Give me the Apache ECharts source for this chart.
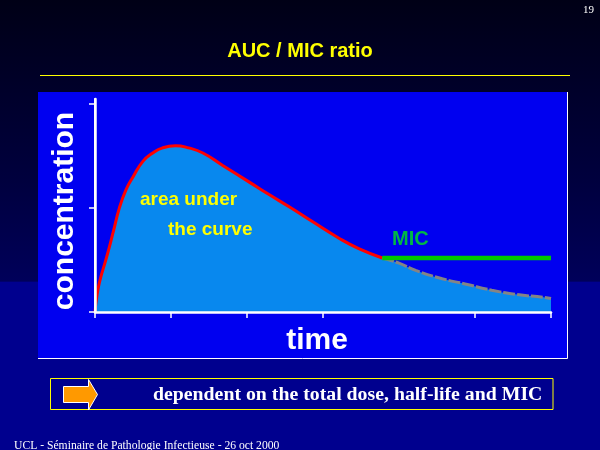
<!DOCTYPE html>
<html>
<head>
<meta charset="utf-8">
<script src="https://cdn.jsdelivr.net/npm/echarts@6/dist/echarts.min.js"></script>
<style>
html,body{margin:0;padding:0;background:#000030;}
#chart{width:600px;height:450px;}
</style>
</head>
<body>
<div id="chart"></div>
<script>
// ---- data ----
const curveTime = [0, 0.02, 0.06, 0.15, 0.24, 0.32, 0.41, 0.5, 0.63, 0.76, 0.89, 1.06, 1.23, 1.42, 1.68, 2.03, 2.29, 2.56, 2.86, 3.21, 3.47, 3.78];
const curveConc = [0, 0.13, 0.29, 0.52, 0.77, 1.0, 1.18, 1.3, 1.45, 1.53, 1.58, 1.6, 1.58, 1.53, 1.41, 1.25, 1.13, 1.01, 0.87, 0.71, 0.61, 0.52];
const tailTime = [3.78, 4.0, 4.22, 4.57, 4.87, 5.22, 5.53, 5.92, 6.0];
const tailConc = [0.52, 0.47, 0.40, 0.32, 0.27, 0.21, 0.17, 0.14, 0.13];
const micTime = [3.78, 6.0];
const micConc = [0.52, 0.52];
const xTickValues = [0, 1, 2, 3, 5, 6];
const yTickValues = [0, 1, 2];

const titleText = 'AUC / MIC ratio';
const yName = 'concentration';
const xName = 'time';
const areaLabel1 = 'area under';
const areaLabel2 = 'the curve';
const micLabel = 'MIC';
const noteText = 'dependent on the total dose, half-life and MIC';
const footerText = 'UCL - Séminaire de Pathologie Infectieuse - 26 oct 2000';
const pageNumber = '19';

const zip = (a, b) => a.map((v, i) => [v, b[i]]);
const curvePts = zip(curveTime, curveConc);
const tailPts = zip(tailTime, tailConc);
const allPts = curvePts.concat(tailPts.slice(1));

const chart = echarts.init(document.getElementById('chart'), null, {renderer: 'canvas'});
const fillColor = '#0888ee';
const sans = '"Liberation Sans", Arial, sans-serif';
const serif = '"Liberation Serif", "Times New Roman", serif';
const smoothAmt = 0.5;

const option = {
  animation: false,
  title: {
    text: titleText, left: 'center', top: 36,
    textStyle: {color: '#ffff00', fontSize: 20, fontWeight: 'bold', fontFamily: sans}
  },
  grid: {left: 95, right: 49, top: 99, bottom: 138, containLabel: false},
  xAxis: [{
    type: 'value', min: 0, max: 6, interval: 1, z: 3,
    name: xName, nameLocation: 'middle', nameGap: 14,
    nameTextStyle: {color: '#ffffff', fontSize: 30, fontWeight: 'bold', fontFamily: sans, padding: [0, 12, 0, 0]},
    axisLine: {show: true, lineStyle: {color: '#ffffff', width: 1}},
    axisTick: {show: true, length: 6, customValues: xTickValues, lineStyle: {color: '#ffffff', width: 1.5}},
    axisLabel: {show: false},
    splitLine: {show: false}
  }, {
    type: 'value', min: 0, max: 6, position: 'top', z: 3,
    axisLine: {show: true, lineStyle: {color: '#ffffff', width: 2.5}},
    axisTick: {show: false}, axisLabel: {show: false}, splitLine: {show: false}
  }],
  yAxis: [{
    type: 'value', min: 0, max: 2.05, interval: 1, z: 3,
    name: yName, nameLocation: 'middle', nameGap: 15, nameRotate: 90,
    nameTextStyle: {color: '#ffffff', fontSize: 30, fontWeight: 'bold', fontFamily: sans, padding: [0, 11, 0, 0]},
    axisLine: {show: true, lineStyle: {color: '#ffffff', width: 2}},
    axisTick: {show: true, length: 6, customValues: yTickValues, lineStyle: {color: '#ffffff', width: 1.5}},
    axisLabel: {show: false},
    splitLine: {show: false}
  }, {
    type: 'value', min: 0, max: 2.05, position: 'right', z: 3,
    axisLine: {show: true, lineStyle: {color: '#ffffff', width: 2.5}},
    axisTick: {show: false}, axisLabel: {show: false}, splitLine: {show: false}
  }],
  series: [{
    // area under the whole curve
    type: 'line', smooth: smoothAmt, showSymbol: false, symbol: 'none',
    data: allPts,
    lineStyle: {width: 0, opacity: 0},
    areaStyle: {color: fillColor, opacity: 1},
    z: 1
  }, {
    type: 'line', smooth: smoothAmt, showSymbol: false, symbol: 'none',
    data: curvePts,
    lineStyle: {color: '#ff0000', width: 3},
    z: 2
  }, {
    type: 'line', smooth: smoothAmt, showSymbol: false, symbol: 'none',
    data: tailPts,
    lineStyle: {color: '#848484', width: 3, type: [12, 2]},
    z: 2
  }, {
    type: 'line', showSymbol: false, symbol: 'none',
    data: zip(micTime, micConc),
    lineStyle: {color: '#00c800', width: 4.5},
    z: 4
  }],
  graphic: [
    {type: 'rect', z: -10, silent: true, shape: {x: 0, y: 0, width: 600, height: 450},
     style: {fill: new echarts.graphic.LinearGradient(0, 0, 0, 1, [
       {offset: 0, color: '#000016'}, {offset: 0.4, color: '#00003e'},
       {offset: 0.625, color: '#00005a'}, {offset: 0.6267, color: '#00008e'}, {offset: 1, color: '#00008e'}])}},
    {type: 'rect', z: -9, silent: true, shape: {x: 38, y: 92, width: 529.5, height: 266.5},
     style: {fill: '#0000f0', stroke: null}},
    {type: 'polyline', z: -8, silent: true, shape: {points: [[567.5, 92], [567.5, 358.5], [38, 358.5]]},
     style: {stroke: '#ffffff', lineWidth: 1, fill: null}},
    {type: 'line', z: -8, silent: true, shape: {x1: 40, y1: 75.5, x2: 570, y2: 75.5},
     style: {stroke: '#ffff00', lineWidth: 1}},
    {type: 'text', z: 10, x: 583, y: 5,
     style: {text: pageNumber, fill: '#ffffff', font: '11px ' + serif}},
    {type: 'text', z: 10, x: 140, y: 200,
     style: {text: areaLabel1, fill: '#ffff00', font: 'bold 19px ' + sans, verticalAlign: 'middle'}},
    {type: 'text', z: 10, x: 168, y: 230,
     style: {text: areaLabel2, fill: '#ffff00', font: 'bold 19px ' + sans, verticalAlign: 'middle'}},
    {type: 'text', z: 10, x: 392, y: 239,
     style: {text: micLabel, fill: '#00b844', font: 'bold 20px ' + sans, verticalAlign: 'middle'}},
    {type: 'rect', z: 10, silent: true, shape: {x: 50.5, y: 378.5, width: 502.5, height: 31},
     style: {fill: null, stroke: '#ffff00', lineWidth: 1}},
    {type: 'polygon', z: 10, silent: true,
     shape: {points: [[63.5, 386.5], [88.5, 386.5], [88.5, 379.5], [97.5, 394.5], [88.5, 410], [88.5, 402.5], [63.5, 402.5]]},
     style: {fill: '#ff9900', stroke: '#ffffff', lineWidth: 1}},
    {type: 'text', z: 10, x: 153, y: 395, scaleX: 1.1,
     style: {text: noteText, fill: '#ffffff', font: 'bold 18px ' + serif, verticalAlign: 'middle'}},
    {type: 'text', z: 10, x: 14, y: 446, scaleX: 0.97,
     style: {text: footerText, fill: '#ffffff', font: '12px ' + serif, verticalAlign: 'middle'}}
  ]
};
chart.setOption(option);
</script>
</body>
</html>
